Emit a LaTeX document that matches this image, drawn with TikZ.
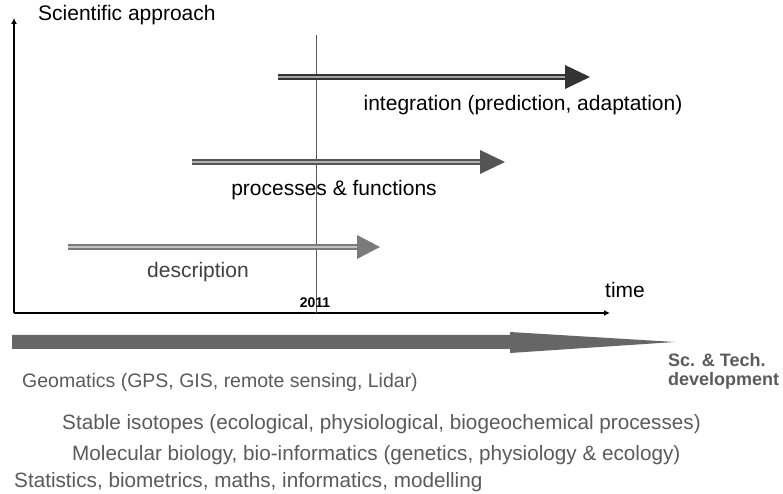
\documentclass[tikz,border=0pt]{standalone}
\usepackage{fontspec}
\setmainfont{Liberation Sans}
\usetikzlibrary{arrows.meta}
\definecolor{darkarr}{HTML}{333333}
\definecolor{midarr}{HTML}{555555}
\definecolor{lightarr}{HTML}{7A7A7A}
\definecolor{techgray}{HTML}{5A5A5A}
\tikzset{
  shaft/.style={line width=1.6pt,double distance=2.2pt},
  lbl/.style={font=\fontsize{21}{25}\selectfont,inner sep=0pt},
  techlbl/.style={font=\fontsize{20.7}{24}\selectfont,text=techgray,inner sep=0pt,anchor=west},
}
\begin{document}
\begin{tikzpicture}[x=10pt,y=10pt]
				\useasboundingbox (0,0) rectangle (78.3,49.4);
				% axes
				\draw[line width=2.4pt,-{Latex[length=6pt,width=6pt]}] (1.4,18.1) -- (1.4,47.6);
				\draw[line width=2.4pt,-{Latex[length=6pt,width=6pt]}] (1.4,18.1) -- (61.0,18.1);
				\node[lbl,anchor=west] (yaxis) at (3.8,47.9) {Scientific approach};
				\node[lbl,anchor=west] (xaxis) at (60.5,20.4) {time};
				% year 2011
				\draw[line width=0.9pt,black!65] (31.6,18.1) -- (31.6,45.9);
				\node[font=\fontsize{14}{16}\selectfont\bfseries,inner sep=0pt] (year) at (31.5,19.1) {2011};
				% approaches
				\draw[shaft,darkarr,double=darkarr!45] (27.8,41.7) -- (56.6,41.7);
				\fill[darkarr] (56.5,42.9) -- (59.0,41.7) -- (56.5,40.5) -- cycle;
				\node[lbl] (integ) at (52.3,38.9) {integration (prediction, adaptation)};
				\draw[shaft,midarr,double=midarr!45] (19.2,33.2) -- (48.1,33.2);
				\fill[midarr] (48.0,34.4) -- (50.5,33.2) -- (48.0,32.0) -- cycle;
				\node[lbl] (proc) at (33.4,30.4) {processes \& functions};
				\draw[shaft,lightarr,double=lightarr!45] (6.8,24.7) -- (35.8,24.7);
				\fill[lightarr] (35.7,25.9) -- (38.0,24.7) -- (35.7,23.5) -- cycle;
				\node[lbl,text=black!75] (descr) at (19.8,22.2) {description};
				% technical development
				\fill[black!60] (1.2,14.5) -- (51.0,14.5) -- (51.0,14.1) -- (67.5,15.2) -- (51.0,16.2) -- (51.0,15.9) -- (1.2,15.9) -- cycle;
				\node[font=\fontsize{18}{19.5}\selectfont\bfseries,text=techgray,align=left,anchor=north west,inner sep=0pt] (sctech) at (66.8,14.1) {Sc. \& Tech.\\development};
				\node[techlbl,font=\fontsize{19.5}{23}\selectfont] (geo) at (2.2,11.2) {Geomatics (GPS, GIS, remote sensing, Lidar)};
				\node[techlbl] (iso) at (6.2,7.0) {Stable isotopes (ecological, physiological, biogeochemical processes)};
				\node[techlbl] (mol) at (7.2,3.9) {Molecular biology, bio-informatics (genetics, physiology \& ecology)};
				\node[techlbl] (stat) at (1.4,1.15) {Statistics, biometrics, maths, informatics, modelling};
				\end{tikzpicture}
\end{document}
